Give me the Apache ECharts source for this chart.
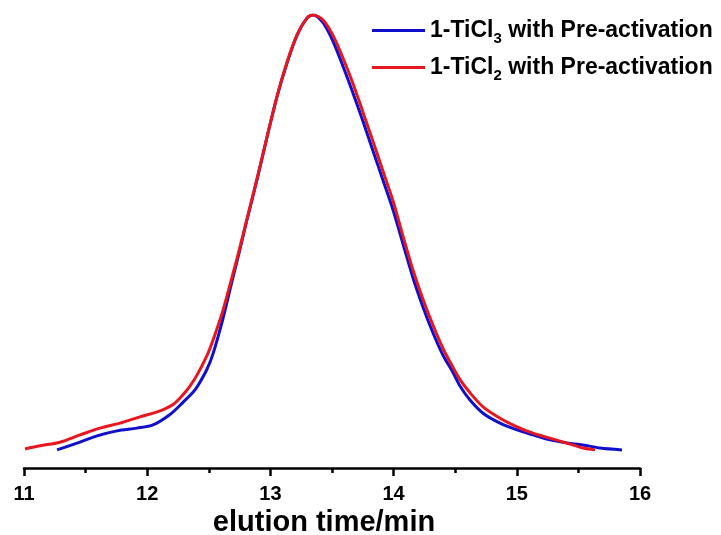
<!DOCTYPE html>
<html><head><meta charset="utf-8">
<script src="https://cdn.jsdelivr.net/npm/echarts@6/dist/echarts.min.js"></script>
<style>html,body{margin:0;padding:0;background:#fff}#c{width:721px;height:535px}</style>
</head><body><div id="c"></div>
<script>
var seriesNames = ['1-TiCl3 with Pre-activation', '1-TiCl2 with Pre-activation'];
var xTicks = [11, 12, 13, 14, 15, 16];
var xAxisTitle = 'elution time/min';

var blueX = [11.268,11.430,11.593,11.755,11.917,12.047,12.185,12.291,12.372,12.412,12.485,12.534,12.615,12.688,12.729,12.810,12.891,12.972,13.054,13.135,13.216,13.297,13.346,13.427,13.508,13.589,13.670,13.752,13.833,13.914,13.995,14.076,14.157,14.239,14.320,14.401,14.482,14.539,14.620,14.726,14.864,15.002,15.131,15.269,15.407,15.537,15.675,15.854];
var blueY = [0.040,0.055,0.071,0.082,0.088,0.095,0.118,0.145,0.167,0.182,0.218,0.252,0.330,0.412,0.456,0.548,0.636,0.730,0.820,0.894,0.955,0.993,1.000,0.983,0.942,0.887,0.828,0.765,0.700,0.635,0.570,0.495,0.420,0.355,0.298,0.249,0.211,0.181,0.150,0.121,0.099,0.084,0.073,0.062,0.055,0.051,0.044,0.040];

var redX = [11.008,11.130,11.292,11.455,11.617,11.779,11.942,12.104,12.209,12.291,12.347,12.404,12.485,12.534,12.615,12.688,12.729,12.810,12.891,12.972,13.054,13.135,13.216,13.297,13.346,13.427,13.508,13.589,13.670,13.752,13.833,13.914,13.995,14.076,14.157,14.239,14.320,14.401,14.482,14.539,14.620,14.726,14.864,15.002,15.131,15.269,15.407,15.537,15.635];
var redY = [0.042,0.049,0.057,0.073,0.088,0.099,0.113,0.126,0.140,0.162,0.181,0.205,0.248,0.282,0.348,0.421,0.462,0.550,0.638,0.730,0.821,0.896,0.956,0.993,1.000,0.989,0.955,0.905,0.849,0.785,0.721,0.655,0.590,0.512,0.437,0.372,0.315,0.264,0.222,0.195,0.166,0.135,0.110,0.091,0.077,0.066,0.055,0.044,0.040];

function zip(xs, ys){ return xs.map(function(x,i){ return [x, ys[i]]; }); }

var chart = echarts.init(document.getElementById('c'), null, {renderer:'canvas'});
var FONT = '"Liberation Sans", Arial, sans-serif';
chart.setOption({
  animation: false,
  backgroundColor: '#ffffff',
  grid: {left: 24, right: 81, top: 15, bottom: 67, containLabel: false, outerBoundsMode: 'none'},
  legend: {
    orient: 'vertical', left: 372, top: 19, itemGap: 10, padding: 0,
    icon: 'rect', itemWidth: 53, itemHeight: 3,
    textStyle: {fontFamily: FONT, fontWeight: 'bold', fontSize: 23, color: '#000',
      rich: {
        n: {fontFamily: FONT, fontWeight: 'bold', fontSize: 23, color: '#000'},
        s: {fontFamily: FONT, fontWeight: 'bold', fontSize: 15, color: '#000', padding: [16, 0, 0, 0]}
      }},
    formatter: function(name){
      var m = name.match(/^(1-TiCl)(\d)(.*)$/);
      return '{n|' + m[1] + '}{s|' + m[2] + '}{n|' + m[3] + '}';
    },
    data: seriesNames
  },
  xAxis: {
    type: 'value', min: xTicks[0], max: xTicks[xTicks.length-1], interval: 1,
    name: xAxisTitle, nameLocation: 'middle', nameGap: 36,
    nameTextStyle: {fontFamily: FONT, fontWeight: 'bold', fontSize: 29, color: '#000', padding: [0, 16, 0, 0]},
    axisLine: {show: true, lineStyle: {color: '#000', width: 2.5}},
    axisTick: {show: true, inside: false, length: 8, lineStyle: {color: '#000', width: 2.5}},
    minorTick: {show: true, splitNumber: 2, length: 5, lineStyle: {color: '#000', width: 2.5}},
    axisLabel: {fontFamily: FONT, fontWeight: 'bold', fontSize: 20, color: '#000', margin: 16},
    splitLine: {show: false}
  },
  yAxis: {type: 'value', min: 0, max: 1, show: false},
  series: [
    {name: seriesNames[0], type: 'line', data: zip(blueX, blueY), showSymbol: false, symbol: 'none', smooth: 0.3,
     lineStyle: {color: '#1010cc', width: 3}, itemStyle: {color: '#1010cc'}},
    {name: seriesNames[1], type: 'line', data: zip(redX, redY), showSymbol: false, symbol: 'none', smooth: 0.3,
     lineStyle: {color: '#e8161e', width: 3}, itemStyle: {color: '#e8161e'}}
  ]
});
</script></body></html>
